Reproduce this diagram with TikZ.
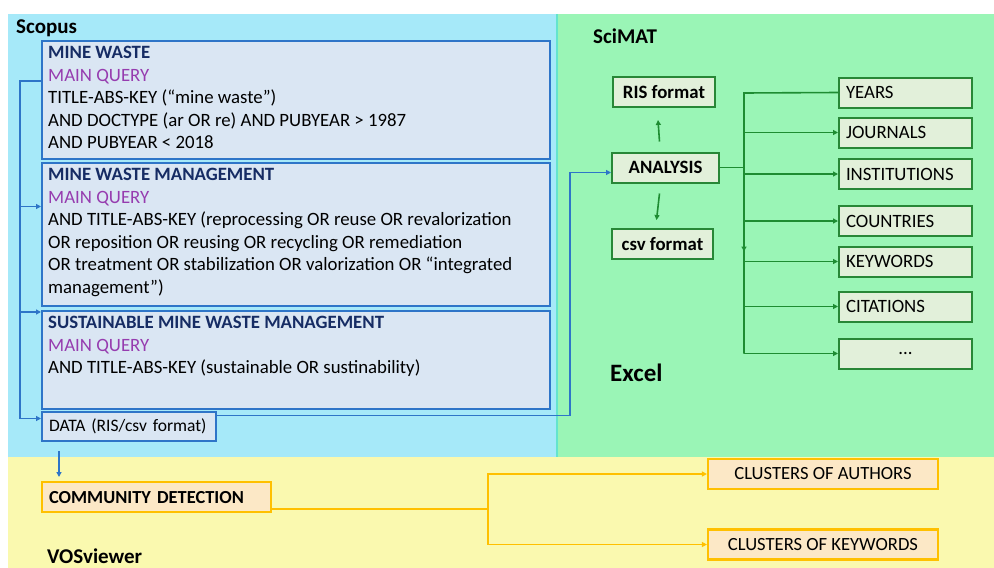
\documentclass[tikz,border=0pt]{standalone}
\usepackage{fontspec}
\setmainfont{Carlito}
\usetikzlibrary{arrows.meta}

\begin{document}
\begin{tikzpicture}[x=1pt,y=-1pt,line cap=butt,
% Styles
region text/.style={font=\bfseries\fontsize{21}{24}\selectfont,anchor=base west,inner sep=0pt},
query box/.style={draw=qborder,fill=qfill,line width=2pt,anchor=north west,minimum width=508pt,inner sep=0pt},
query text/.style={anchor=north west,inner sep=0pt,align=left,font=\fontsize{18.8}{22.6}\selectfont},
blue box/.style={draw=qborder,fill=qfill,line width=2pt,anchor=north west,inner xsep=7pt,inner ysep=0pt,align=left,font=\fontsize{17.5}{20}\selectfont},
green box/.style={draw=gborder,fill=gfill,line width=2pt,minimum height=30pt,inner sep=0pt,font=\bfseries\fontsize{18.8}{21}\selectfont},
item box/.style={draw=gborder,fill=gfill,line width=2pt,anchor=west,minimum height=30pt,text width=119pt,inner xsep=7pt,inner ysep=0pt,align=left,font=\fontsize{18.8}{21}\selectfont},
yellow box/.style={draw=yborder,fill=yfill,line width=2.2pt,minimum height=30pt,inner xsep=7pt,inner ysep=0pt,font=\fontsize{18.6}{21}\selectfont},
blue line/.style={draw=qborder,line width=1.6pt},
blue arrow/.style={blue line,-{Triangle[length=5pt,width=5pt]}},
green line/.style={draw=gline,line width=1.6pt},
green arrow/.style={green line,-{Triangle[length=5pt,width=5pt]}},
yellow line/.style={draw=yborder,line width=1.6pt},
yellow arrow/.style={yellow line,-{Triangle[length=5pt,width=5pt]}}]
% Colors
\definecolor{scopusbg}{RGB}{166,233,249}
\definecolor{scimatbg}{RGB}{154,245,182}
\definecolor{vosbg}{RGB}{250,249,175}
\definecolor{divider}{RGB}{100,228,205}
\definecolor{qborder}{RGB}{46,117,200}
\definecolor{qfill}{RGB}{218,230,243}
\definecolor{qtitle}{RGB}{22,44,100}
\definecolor{mainq}{RGB}{150,60,175}
\definecolor{gborder}{RGB}{40,135,55}
\definecolor{gline}{RGB}{30,140,50}
\definecolor{gfill}{RGB}{226,240,218}
\definecolor{yborder}{RGB}{255,192,0}
\definecolor{yfill}{RGB}{252,232,198}
% Local definitions
\def\qtitle#1{\textbf{\color{qtitle}#1}}
\def\mainq{\textcolor{mainq}{MAIN QUERY}}
\useasboundingbox (0,0) rectangle (994,568);
% Backgrounds
\fill[scopusbg] (8,14) rectangle (556,457);
\fill[scimatbg] (556,14) rectangle (994,457);
\fill[vosbg] (8,457) rectangle (994,568);
\draw[divider,line width=2pt] (557,14) -- (557,457);
\node[region text] (scopus) at (16,33) {Scopus};
\node[region text] (scimat) at (593,43) {SciMAT};
\node[region text,font=\bfseries\fontsize{25}{28}\selectfont] (excel) at (610,381) {Excel};
\node[region text] (vos) at (47,563) {VOSviewer};
% Scopus queries
\node[query box,minimum height=118pt] (mw) at (41,40) {};
\node[query box,minimum height=143pt] (mwm) at (41,162) {};
\node[query box,minimum height=98pt] (smwm) at (41,310) {};
\node[query text] (mwtxt) at ([shift={(7,6)}]mw.north west) {\qtitle{MINE WASTE}\\\mainq\\TITLE-ABS-KEY (“mine waste”)\\AND DOCTYPE (ar OR re) AND PUBYEAR > 1987\\AND PUBYEAR < 2018};
\node[query text] (mwmtxt) at ([shift={(7,6)}]mwm.north west) {\qtitle{MINE WASTE MANAGEMENT}\\\mainq\\AND TITLE-ABS-KEY (reprocessing OR reuse OR revalorization\\OR reposition OR reusing OR recycling OR remediation\\OR treatment OR stabilization OR valorization OR “integrated\\management”)};
\node[query text] (smwmtxt) at ([shift={(7,6)}]smwm.north west) {\qtitle{SUSTAINABLE MINE WASTE MANAGEMENT}\\\mainq\\AND TITLE-ABS-KEY (sustainable OR sustinability)};
\node[blue box,minimum height=29pt,text width=160pt] (data) at (41,411) {DATA (RIS/csv format)};
\coordinate (lb) at (20,81);
\draw[blue arrow] (lb -| mw.west) -- (lb) |- ([yshift=8pt]data.west);
\draw[blue arrow] ([yshift=28pt]mwm.west -| lb) -- ([yshift=28pt]mwm.west);
\draw[blue arrow] ([yshift=-2pt]smwm.north west -| lb) -- ([yshift=-2pt]smwm.north west);
% SciMAT
\node[green box,minimum width=102pt] (ris) at (664,92) {RIS format};
\node[green box,minimum width=107pt] (ana) at (665.5,167.5) {ANALYSIS};
\node[green box,minimum width=101pt] (csv) at (662.5,244) {csv format};
\draw[green arrow] ([shift={(-6,-10)}]ana.north) -- ([shift={(-6,12)}]ris.south);
\draw[green arrow] ([shift={(-6,10)}]ana.south) -- ([shift={(-6,-8)}]csv.north);
\draw[blue arrow] ([yshift=11pt]data.east) -| ([xshift=-41pt,yshift=-5pt]ana.west) -- ([yshift=-5pt]ana.west);
\foreach \nm/\y/\txt in {yrs/92.5/YEARS, jour/132.5/JOURNALS, inst/174/INSTITUTIONS, cntr/221/COUNTRIES, kwd/261.5/KEYWORDS, cit/306.5/CITATIONS}
    \node[item box] (\nm) at (838,\y) {\txt};
\node[item box,align=center] (more) at (838,353.5) {...};
\coordinate (trunk) at (744,93);
\draw[green line] (yrs.west) -- (trunk) -- (trunk |- more.west);
\draw[green arrow] (ana.east) -| ([yshift=-84pt]trunk |- ana.east);
\foreach \nm in {jour,inst,cntr,kwd,cit,more}
    \draw[green arrow] (trunk |- \nm.west) -- (\nm.west);
% VOSviewer
\node[yellow box,font=\bfseries\fontsize{18.4}{21}\selectfont,anchor=north west,minimum width=229pt,text width=215pt,align=left] (cd) at (41,481) {COMMUNITY DETECTION};
\node[yellow box,minimum width=230pt] (caut) at (823,474) {CLUSTERS OF AUTHORS};
\node[yellow box,minimum width=230pt] (ckwd) at (823,544.5) {CLUSTERS OF KEYWORDS};
\draw[blue arrow] ([shift={(18,9)}]data.south west) -- ([shift={(18,-4)}]cd.north west);
\coordinate (fork) at (488,509);
\draw[yellow line] (fork -| cd.east) -- (fork);
\draw[yellow arrow] (fork) |- (caut.west);
\draw[yellow arrow] (fork) |- (ckwd.west);
\end{tikzpicture}
\end{document}
